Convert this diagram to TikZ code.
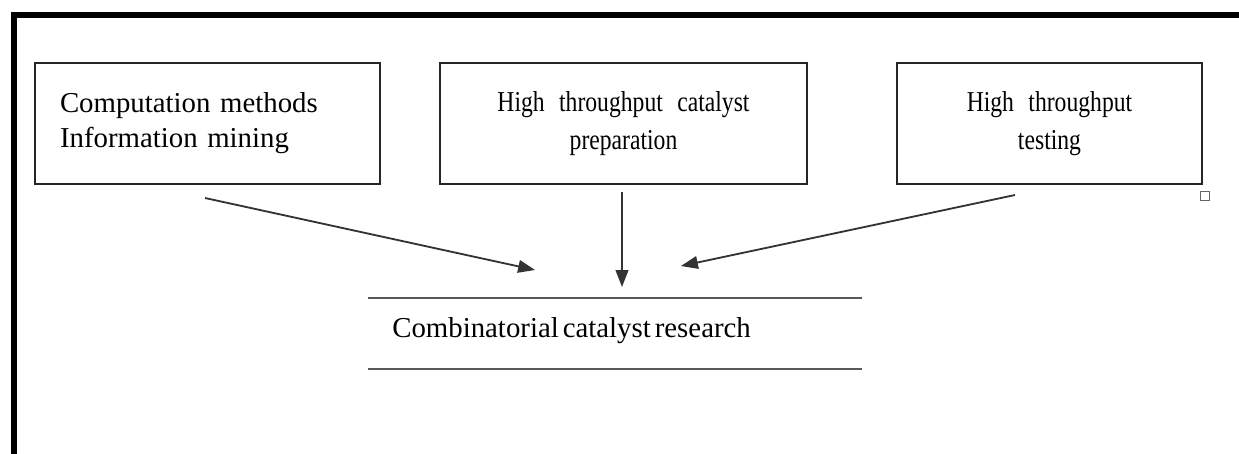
\documentclass[tikz,border=0pt]{standalone}
\usepackage{fontspec}
\setmainfont{Liberation Serif}
\newfontfamily\tightfont[WordSpace=0.55]{Liberation Serif}
\newfontfamily\condfont[FakeStretch=0.82]{Liberation Serif}
\usetikzlibrary{arrows.meta}
\begin{document}
\begin{tikzpicture}[x=0.025cm,y=-0.025cm,
  boxstyle/.style={draw=black!85,line width=1.2pt,minimum height=121*0.025cm},
  arr/.style={draw=black!80,line width=1.3pt,-{Triangle[length=12pt,width=9pt]}},
  rule/.style={draw=black!65,line width=2pt},
  frame/.style={draw=black,line width=3.6pt}]
\useasboundingbox (0,0) rectangle (1239,454);
% outer frame
\coordinate (f1) at (14,454);
\coordinate (f2) at (14,15);
\coordinate (f3) at (1239,15);
\draw[frame] (f1) -- (f2) -- (f3);
% boxes
\node[boxstyle,minimum width=345*0.025cm,text width=295*0.025cm,align=left,font=\tightfont\fontsize{20.5}{25}\selectfont] (b1) at (207.5,123.5)
  {Computation methods\\Information mining};
\node[boxstyle,minimum width=367*0.025cm,text width=330*0.025cm,align=center,font=\condfont\fontsize{20.5}{27}\selectfont] (b2) at (623.5,123.5)
  {High\enspace throughput\enspace catalyst\\preparation};
\node[boxstyle,minimum width=305*0.025cm,text width=280*0.025cm,align=center,font=\condfont\fontsize{20.5}{27}\selectfont] (b3) at (1049.5,123.5)
  {High\enspace throughput\\testing};
% small square
\node[draw=black!60,line width=0.5pt,minimum size=9*0.025cm,inner sep=0pt] (sq) at (1205,196) {};
% arrows
\coordinate (a1s) at (205,198);
\coordinate (a1e) at (535,270);
\coordinate (a2s) at (622,192);
\coordinate (a2e) at (622,287);
\coordinate (a3s) at (1015,195);
\coordinate (a3e) at (681,266);
\draw[arr] (a1s) -- (a1e);
\draw[arr] (a2s) -- (a2e);
\draw[arr] (a3s) -- (a3e);
% result
\coordinate (l1a) at (368,298);
\coordinate (l1b) at (862,298);
\coordinate (l2a) at (368,369);
\coordinate (l2b) at (862,369);
\draw[rule] (l1a) -- (l1b);
\draw[rule] (l2a) -- (l2b);
\node[anchor=west,font=\tightfont\fontsize{20.5}{24}\selectfont,inner sep=0pt] (res) at (392,331) {Combinatorial catalyst research};
\end{tikzpicture}
\end{document}
